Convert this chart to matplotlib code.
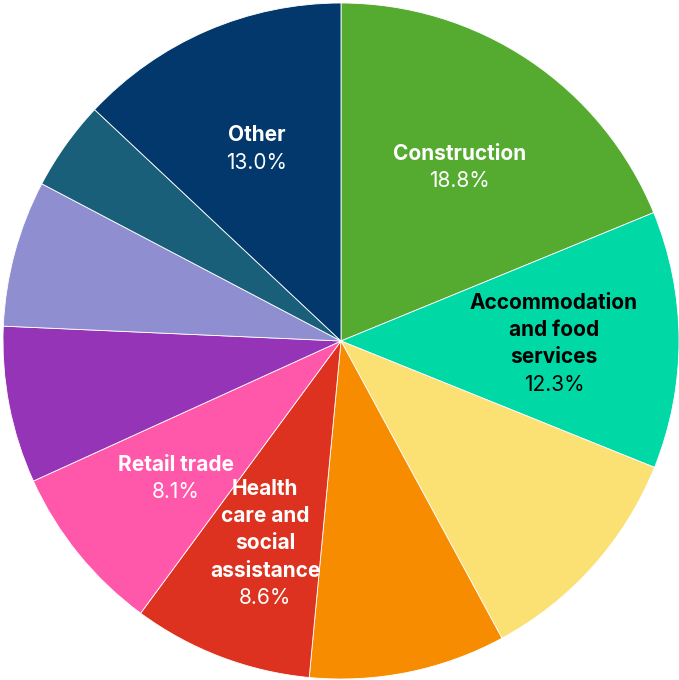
import numpy as np
import matplotlib.pyplot as plt

# Slice data, clockwise from 12 o'clock
names = ["Construction", "Accommodation\nand food\nservices", "", "",
         "Health\ncare and\nsocial\nassistance", "Retail trade", "", "", "", "Other"]
shares = [18.8, 12.3, 11.0, 9.4, 8.6, 8.1, 7.5, 7.0, 4.3, 13.0]
colors = ["#55AA30", "#00D9A6", "#FBE173", "#F88C00", "#DC321F",
          "#FF57A9", "#9534B6", "#8E8ED0", "#1A5F7A", "#02386C"]
text_colors = ["white", "black", None, None, "white", "white", None, None, None, "white"]

plt.rcParams['font.family'] = ['Inter', 'DejaVu Sans']

fig = plt.figure(figsize=(6.79, 6.80), dpi=100)
ax = fig.add_axes([0, 0, 1, 1])
R = 338.0

wedges, _ = ax.pie(shares, colors=colors, startangle=90, counterclock=False,
                   radius=1.0, wedgeprops=dict(edgecolor='white', linewidth=0.6))

# pie() resets the view, so fix limits afterwards
ax.set_xlim(-341 / R, (679 - 341) / R)
ax.set_ylim(-339 / R, 341 / R)
ax.set_aspect('equal')
ax.axis('off')

line_step = 27.3 / R
shift = 3.5 / R
for w, name, val, tc in zip(wedges, names, shares, text_colors):
    if not name:
        continue
    mid = np.deg2rad((w.theta1 + w.theta2) / 2)
    cx, cy = 0.63 * np.cos(mid), 0.63 * np.sin(mid) - shift
    lines = name.split("\n")
    n = len(lines) + 1
    top = cy + (n - 1) / 2 * line_step
    for i, ln in enumerate(lines):
        ax.text(cx, top - i * line_step, ln, ha='center', va='center',
                fontsize=15, fontweight='bold', color=tc)
    ax.text(cx, top - len(lines) * line_step, f"{val:.1f}%", ha='center',
            va='center', fontsize=15, color=tc)

fig.savefig("out.png", dpi=100)
